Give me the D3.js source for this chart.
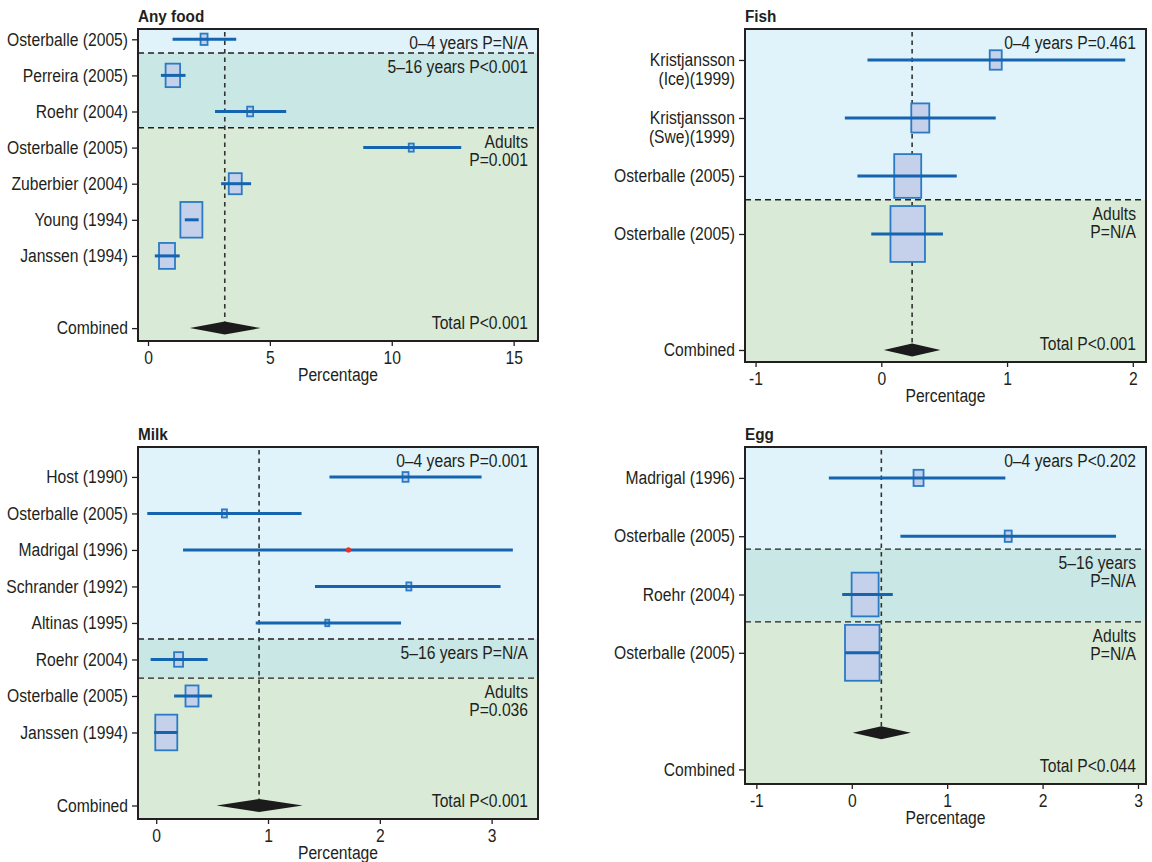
<!DOCTYPE html>
<html>
<head>
<meta charset="utf-8">
<script src="https://cdn.jsdelivr.net/npm/d3@7"></script>
<style>
  html, body { margin: 0; padding: 0; background: #fff; }
  svg text { font-family: "Liberation Sans Narrow", "Arial Narrow", "Liberation Sans", Arial, sans-serif; fill: #231f20; }
</style>
</head>
<body>
<svg id="chart" width="1152" height="862"></svg>
<script>
// ---------- Any food ----------
const anyFoodStudies = ["Osterballe (2005)", "Perreira (2005)", "Roehr (2004)", "Osterballe (2005)",
                        "Zuberbier (2004)", "Young (1994)", "Janssen (1994)"];
const anyFoodEst    = [2.30, 1.02, 4.19, 10.80, 3.58, 1.78, 0.78];
const anyFoodLo     = [1.01, 0.53, 2.75, 8.83, 3.00, 1.51, 0.28];
const anyFoodHi     = [3.62, 1.54, 5.67, 12.85, 4.23, 2.08, 1.30];
const anyFoodWeight = [7, 14.5, 6, 5, 13, 22, 16];
const anyFoodGroup  = [0, 1, 1, 2, 2, 2, 2];
const anyFoodGroups = [["0–4", ["0–4 years P=N/A"]], ["5–16", ["5–16 years P<0.001"]], ["adult", ["Adults", "P=0.001"]]];
const anyFoodBounds = [0.38, 2.45];
const anyFoodCombined = [3.15, 1.72, 4.62];   // estimate, lower, upper
const anyFoodTicks  = [0, 5, 10, 15];

// ---------- Fish ----------
const fishStudies = ["Kristjansson\n(Ice)(1999)", "Kristjansson\n(Swe)(1999)", "Osterballe (2005)", "Osterballe (2005)"];
const fishEst    = [0.91, 0.31, 0.21, 0.21];
const fishLo     = [-0.11, -0.29, -0.19, -0.08];
const fishHi     = [1.94, 0.91, 0.60, 0.49];
const fishWeight = [12, 18, 27, 34.5];
const fishGroup  = [0, 0, 0, 1];
const fishGroups = [["0–4", ["0–4 years P=0.461"]], ["adult", ["Adults", "P=N/A"]]];
const fishBounds = [2.41];
const fishCombined = [0.245, 0.02, 0.47];
const fishTicks  = [-1, 0, 1, 2];

// ---------- Milk ----------
const milkStudies = ["Host (1990)", "Osterballe (2005)", "Madrigal (1996)", "Schrander (1992)",
                     "Altinas (1995)", "Roehr (2004)", "Osterballe (2005)", "Janssen (1994)"];
const milkEst    = [2.23, 0.61, 1.72, 2.26, 1.53, 0.20, 0.32, 0.09];
const milkLo     = [1.55, -0.08, 0.24, 1.42, 0.89, -0.05, 0.16, -0.02];
const milkHi     = [2.91, 1.30, 3.19, 3.08, 2.19, 0.46, 0.50, 0.19];
const milkWeight = [6, 5, null, 5, 4, 9, 13, 22];   // null: point estimate only
const milkGroup  = [0, 0, 0, 0, 0, 1, 2, 2];
const milkGroups = [["0–4", ["0–4 years P=0.001"]], ["5–16", ["5–16 years P=N/A"]], ["adult", ["Adults", "P=0.036"]]];
const milkBounds = [4.44, 5.51];
const milkCombined = [0.92, 0.54, 1.31];
const milkTicks  = [0, 1, 2, 3];

// ---------- Egg ----------
const eggStudies = ["Madrigal (1996)", "Osterballe (2005)", "Roehr (2004)", "Osterballe (2005)"];
const eggEst    = [0.70, 1.64, 0.14, 0.11];
const eggLo     = [-0.24, 0.51, -0.10, -0.07];
const eggHi     = [1.61, 2.77, 0.43, 0.29];
const eggWeight = [10, 7, 27, 34.5];
const eggGroup  = [0, 0, 1, 2];
const eggGroups = [["0–4", ["0–4 years P<0.202"]], ["5–16", ["5–16 years", "P=N/A"]], ["adult", ["Adults", "P=N/A"]]];
const eggBounds = [1.22, 2.47];
const eggCombined = [0.31, 0.01, 0.62];
const eggTicks  = [-1, 0, 1, 2, 3];

const bandFill = { "0–4": "#e0f3fa", "5–16": "#c9e7e5", "adult": "#d9ebd6" };
const ink = "#231f20";
const ciColor = "#1464b0";
const boxFill = "#c5d1eb";
const boxStroke = "#2a7ac4";
const squeeze = 0.87;     // horizontal compression for a condensed look

const panels = [
  { title: "Any food", studies: anyFoodStudies, est: anyFoodEst, lo: anyFoodLo, hi: anyFoodHi,
    weight: anyFoodWeight, group: anyFoodGroup, groups: anyFoodGroups, bounds: anyFoodBounds,
    combined: anyFoodCombined, combinedRow: 8, diamondRow: 8, total: "Total P<0.001", ticks: anyFoodTicks,
    xDomain: [-0.41, 16.0], frame: { x0: 138, y0: 29, x1: 538, y1: 341 }, pad: [0.285, 0.357] },
  { title: "Fish", studies: fishStudies, est: fishEst, lo: fishLo, hi: fishHi,
    weight: fishWeight, group: fishGroup, groups: fishGroups, bounds: fishBounds,
    combined: fishCombined, combinedRow: 5, diamondRow: 5, total: "Total P<0.001", ticks: fishTicks,
    xDomain: [-1.084, 2.105], frame: { x0: 745, y0: 29, x1: 1146, y1: 362 }, pad: [0.534, 0.207] },
  { title: "Milk", studies: milkStudies, est: milkEst, lo: milkLo, hi: milkHi,
    weight: milkWeight, group: milkGroup, groups: milkGroups, bounds: milkBounds,
    combined: milkCombined, combinedRow: 9, diamondRow: 9, total: "Total P<0.001", ticks: milkTicks,
    xDomain: [-0.163, 3.415], frame: { x0: 138, y0: 447, x1: 538, y1: 819 }, pad: [0.82, 0.37] },
  { title: "Egg", studies: eggStudies, est: eggEst, lo: eggLo, hi: eggHi,
    weight: eggWeight, group: eggGroup, groups: eggGroups, bounds: eggBounds,
    combined: eggCombined, combinedRow: 5, diamondRow: 4.37, total: "Total P<0.044", ticks: eggTicks,
    xDomain: [-1.119, 3.084], frame: { x0: 745, y0: 447, x1: 1146, y1: 784 }, pad: [0.53, 0.25] }
];

const svg = d3.select("#chart");
const boxW = d3.scaleLinear().domain([0, 40]).range([0, 40]);
const boxAspect = 1.62;

// narrow a text horizontally about its own x anchor
function condense(sel, s) {
  sel.each(function () {
    const ax = +(this.getAttribute("x") || 0);
    d3.select(this).attr("transform", `translate(${ax},0) scale(${s},1) translate(${-ax},0)`);
  });
}

panels.forEach(drawPanel);

function drawPanel(p) {
  const { x0, y0, x1, y1 } = p.frame;
  const g = svg.append("g");
  const x = d3.scaleLinear().domain(p.xDomain).range([x0, x1]);
  const y = d3.scaleLinear().domain([-p.pad[0], p.combinedRow + p.pad[1]]).range([y0, y1]);
  const edges = [y.domain()[0], ...p.bounds, y.domain()[1]];

  // age-group bands
  p.groups.forEach(([kind], i) => {
    g.append("rect")
      .attr("x", x0).attr("y", y(edges[i]))
      .attr("width", x1 - x0).attr("height", y(edges[i + 1]) - y(edges[i]))
      .attr("fill", bandFill[kind]);
  });

  // dashed separators between bands
  p.bounds.forEach(b => {
    g.append("line")
      .attr("x1", x0).attr("x2", x1).attr("y1", y(b)).attr("y2", y(b))
      .attr("stroke", ink).attr("stroke-width", 1.3).attr("stroke-dasharray", "6,4");
  });

  // pooled estimate reference line
  const dH = 13;
  g.append("line")
    .attr("x1", x(p.combined[0])).attr("x2", x(p.combined[0]))
    .attr("y1", y0 + 3).attr("y2", y(p.diamondRow) - dH / 2)
    .attr("stroke", "#333").attr("stroke-width", 1.6).attr("stroke-dasharray", "4.5,4");

  const rows = p.studies.map((s, i) => ({
    label: s, row: i, est: p.est[i], lo: p.lo[i], hi: p.hi[i], w: p.weight[i]
  }));

  // study weight boxes
  g.selectAll("rect.box").data(rows.filter(d => d.w != null)).join("rect")
    .attr("class", "box")
    .attr("x", d => x(d.est) - boxW(d.w) / 2)
    .attr("y", d => y(d.row) - boxW(d.w) * boxAspect / 2)
    .attr("width", d => boxW(d.w))
    .attr("height", d => boxW(d.w) * boxAspect)
    .attr("fill", boxFill).attr("stroke", boxStroke).attr("stroke-width", 1.8);

  // confidence intervals
  g.selectAll("line.ci").data(rows).join("line")
    .attr("class", "ci")
    .attr("x1", d => x(d.lo)).attr("x2", d => x(d.hi))
    .attr("y1", d => y(d.row)).attr("y2", d => y(d.row))
    .attr("stroke", ciColor).attr("stroke-width", 3);

  // point estimates without weight box
  g.selectAll("circle.pt").data(rows.filter(d => d.w == null)).join("circle")
    .attr("class", "pt")
    .attr("cx", d => x(d.est)).attr("cy", d => y(d.row)).attr("r", 2.6)
    .attr("fill", "#e8322b");

  // combined diamond
  const [cE, cL, cH] = p.combined;
  const cy = y(p.diamondRow);
  g.append("path")
    .attr("d", `M${x(cL)},${cy}L${x(cE)},${cy - dH / 2}L${x(cH)},${cy}L${x(cE)},${cy + dH / 2}Z`)
    .attr("fill", "#1b1b1b");

  // band labels
  p.groups.forEach(([, lines], i) => {
    lines.forEach((t, j) => {
      g.append("text")
        .attr("x", x1 - 10).attr("y", y(edges[i]) + 20 + j * 18)
        .attr("text-anchor", "end").attr("font-size", 18).text(t)
        .call(condense, squeeze);
    });
  });
  g.append("text")
    .attr("x", x1 - 10).attr("y", y1 - 12)
    .attr("text-anchor", "end").attr("font-size", 18).text(p.total)
    .call(condense, squeeze);

  // y axis with study labels
  const yTicks = rows.map(d => d.row).concat([p.combinedRow]);
  const yLabels = p.studies.concat(["Combined"]);
  const yAxis = d3.axisLeft(y).tickValues(yTicks).tickSize(6).tickPadding(4)
    .tickFormat((d, i) => yLabels[i]);
  const ya = g.append("g").attr("transform", `translate(${x0},0)`).call(yAxis);
  ya.select(".domain").remove();
  ya.selectAll(".tick line").attr("stroke", ink).attr("stroke-width", 1.3);
  ya.selectAll(".tick text").attr("font-size", 18).attr("font-family", null).attr("fill", ink)
    .each(function (d, i) {
      const lines = yLabels[i].split("\n");
      if (lines.length > 1) {
        const t = d3.select(this).text(null);
        lines.forEach((ln, k) => {
          t.append("tspan").attr("x", -10).attr("dy", k === 0 ? "0.32em" : "1.05em").text(ln);
        });
        t.attr("dy", null);
      }
    })
    .call(condense, squeeze);

  // x axis
  const xAxis = d3.axisBottom(x).tickValues(p.ticks).tickSize(5).tickPadding(5).tickFormat(d3.format("d"));
  const xa = g.append("g").attr("transform", `translate(0,${y1})`).call(xAxis);
  xa.select(".domain").remove();
  xa.selectAll(".tick line").attr("stroke", ink).attr("stroke-width", 1.3);
  xa.selectAll(".tick text").attr("font-size", 18).attr("font-family", null).attr("fill", ink)
    .text(d => d < 0 ? "-" + Math.abs(d) : String(d))
    .call(condense, squeeze);

  g.append("text")
    .attr("x", (x0 + x1) / 2).attr("y", y1 + 40)
    .attr("text-anchor", "middle").attr("font-size", 18).text("Percentage")
    .call(condense, squeeze);

  // frame
  g.append("rect")
    .attr("x", x0).attr("y", y0).attr("width", x1 - x0).attr("height", y1 - y0)
    .attr("fill", "none").attr("stroke", ink).attr("stroke-width", 2);

  // title
  g.append("text")
    .attr("x", x0).attr("y", y0 - 7)
    .attr("font-size", 17).attr("font-weight", "bold").text(p.title)
    .call(condense, 0.9);
}
</script>
</body>
</html>
